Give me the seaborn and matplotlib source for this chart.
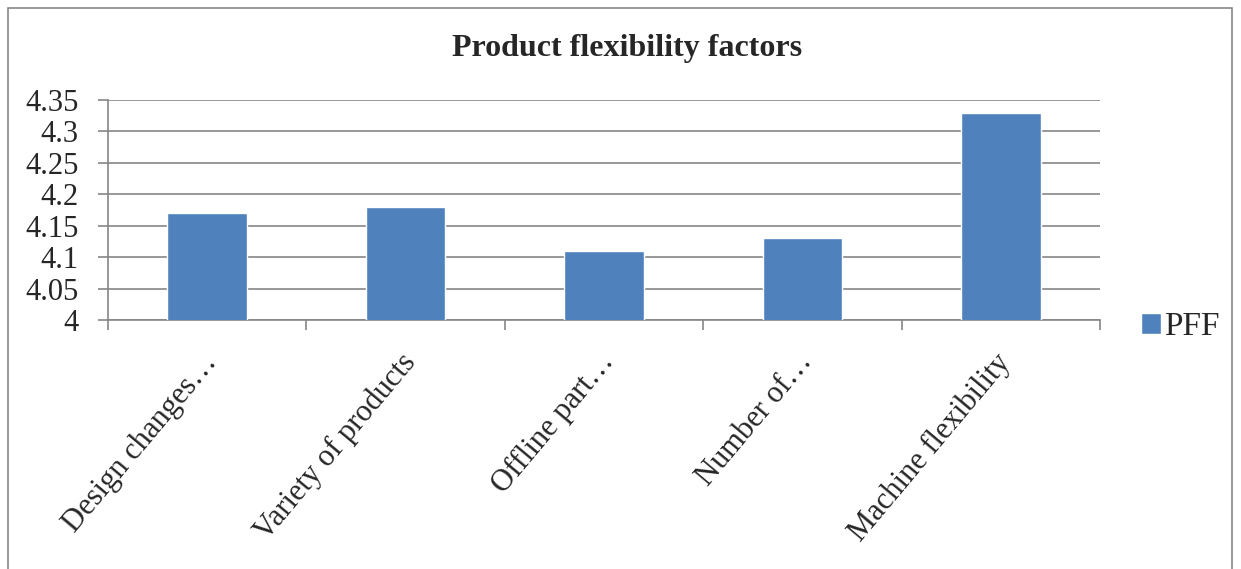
import matplotlib
matplotlib.use('Agg')
import matplotlib.pyplot as plt
import matplotlib.transforms as mtransforms
import pandas as pd
import seaborn as sns
from matplotlib.patches import Rectangle
from matplotlib.ticker import FuncFormatter, MultipleLocator

# chart data
factors = ['Design changes…', 'Variety of products', 'Offline part…', 'Number of…', 'Machine flexibility']
pff = [4.17, 4.18, 4.11, 4.13, 4.33]

df = pd.DataFrame({'factor': factors, 'PFF': pff})

sns.set_style('white')
plt.rcParams['font.family'] = ['Liberation Serif', 'DejaVu Serif']

fig = plt.figure(figsize=(12.41, 5.69), dpi=100)
ax = fig.add_axes([0.087, 0.4376, 0.7995, 0.3867])

sns.barplot(data=df, x='factor', y='PFF', color='#4F81BD', width=0.4,
            saturation=1, ax=ax, label='PFF', zorder=3)

ax.set_ylim(4, 4.35)
ax.set_xlim(-0.5, len(factors) - 0.5)
ax.yaxis.set_major_locator(MultipleLocator(0.05))
ax.yaxis.set_major_formatter(FuncFormatter(lambda v, p: f'{round(v, 2):g}'))
ax.grid(axis='y', color='#868686', linewidth=1.2, zorder=0)
ax.set_xlabel('')
ax.set_ylabel('')

for s in ['top', 'right']:
    ax.spines[s].set_visible(False)
for s in ['left', 'bottom']:
    ax.spines[s].set_color('#868686')
    ax.spines[s].set_linewidth(1.2)

ax.tick_params(axis='y', which='major', length=7, color='#868686', width=1.2,
               labelsize=22, pad=14, left=True)
# x ticks sit at the category boundaries
ax.set_xticks([i for i in range(len(factors))])
ax.set_xticklabels(factors, rotation=50, ha='right', va='center',
                   rotation_mode='anchor', fontsize=22)
ax.tick_params(axis='x', which='major', length=0, pad=27)
offset = mtransforms.ScaledTranslation(5 / 100, 0, fig.dpi_scale_trans)
for lbl in ax.get_xticklabels():
    lbl.set_transform(lbl.get_transform() + offset)
ax.set_xticks([i - 0.5 for i in range(len(factors) + 1)], minor=True)
ax.tick_params(axis='x', which='minor', length=7, color='#868686', width=1.2, bottom=True)

fig.suptitle('Product flexibility factors', x=0.505, y=0.94, fontsize=23, fontweight='bold')

ax.legend(loc='center left', bbox_to_anchor=(1.018, -0.03), frameon=False,
          fontsize=24, handlelength=0.6, handleheight=0.6, handletextpad=0.08,
          borderaxespad=0.3)

# chart border like the Office frame
fig.patches.append(Rectangle((8 / 1241, -0.01), 1224 / 1241, 1 - 8 / 569 + 0.01,
                             transform=fig.transFigure, fill=False,
                             edgecolor='#868686', linewidth=1.2))

fig.savefig('out.png', dpi=100)
